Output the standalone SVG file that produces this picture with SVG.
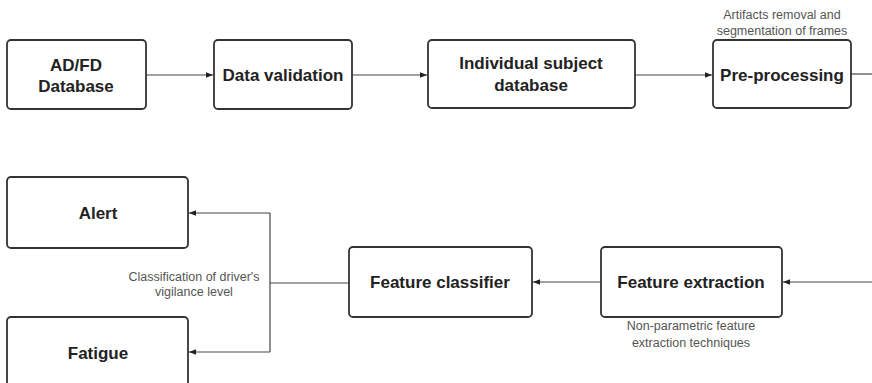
<svg xmlns="http://www.w3.org/2000/svg" width="872" height="383" viewBox="0 0 872 383">
<style>
.box{fill:#fff;stroke:#333;stroke-width:1.8}
.t{font-family:"Liberation Sans",Arial,sans-serif;font-weight:bold;font-size:17px;fill:#222;text-anchor:middle}
.l{font-family:"Liberation Sans",Arial,sans-serif;font-size:12.5px;fill:#555;text-anchor:middle}
.c{fill:none;stroke:#444;stroke-width:1.2}
</style>
<defs>
<marker id="ah" viewBox="0 0 10 10" refX="10" refY="5" markerWidth="7" markerHeight="7" markerUnits="userSpaceOnUse" orient="auto">
<path d="M0,1 L10,5 L0,9 Z" fill="#222"/>
</marker>
</defs>
<rect width="872" height="383" fill="#fff"/>
<g id="connectors">
<line class="c" x1="146" y1="75" x2="213" y2="75" marker-end="url(#ah)"/>
<line class="c" x1="352" y1="75" x2="427" y2="75" marker-end="url(#ah)"/>
<line class="c" x1="635" y1="75" x2="712" y2="75" marker-end="url(#ah)"/>
<line class="c" x1="851" y1="74" x2="872" y2="74"/>
<line class="c" x1="872" y1="282" x2="783" y2="282" marker-end="url(#ah)"/>
<line class="c" x1="601" y1="282" x2="533" y2="282" marker-end="url(#ah)"/>
<line class="c" x1="349" y1="283" x2="270" y2="283"/>
<path class="c" d="M270,213 V352"/>
<line class="c" x1="270" y1="213" x2="189" y2="213" marker-end="url(#ah)"/>
<line class="c" x1="270" y1="352" x2="189" y2="352" marker-end="url(#ah)"/>
</g>
<g id="adfd"><rect class="box" x="7" y="40" width="139" height="69" rx="4"/><text class="t" x="76" y="71">AD/FD</text><text class="t" x="76" y="92">Database</text></g>
<g id="validation"><rect class="box" x="214" y="40" width="138" height="69" rx="4"/><text class="t" x="283" y="81">Data validation</text></g>
<g id="individual"><rect class="box" x="428" y="40" width="207" height="68" rx="4"/><text class="t" x="531" y="69">Individual subject</text><text class="t" x="531" y="91">database</text></g>
<g id="preprocessing"><rect class="box" x="713" y="40" width="138" height="68" rx="4"/><text class="t" x="782" y="81">Pre-processing</text><text class="l" x="782" y="19">Artifacts removal and</text><text class="l" x="782" y="35">segmentation of frames</text></g>
<g id="extraction"><rect class="box" x="601" y="247" width="181" height="70" rx="4"/><text class="t" x="691" y="288">Feature extraction</text><text class="l" x="691" y="330">Non-parametric feature</text><text class="l" x="691" y="347">extraction techniques</text></g>
<g id="classifier"><rect class="box" x="349" y="247" width="183" height="70" rx="4"/><text class="t" x="440" y="288">Feature classifier</text></g>
<g id="alert"><rect class="box" x="7" y="177" width="181" height="71" rx="4"/><text class="t" x="98" y="219">Alert</text></g>
<g id="fatigue"><rect class="box" x="7" y="317" width="181" height="72" rx="4"/><text class="t" x="98" y="359">Fatigue</text></g>
<g id="vigilance-label"><text class="l" x="194" y="281">Classification of driver's</text><text class="l" x="194" y="296">vigilance level</text></g>
</svg>
